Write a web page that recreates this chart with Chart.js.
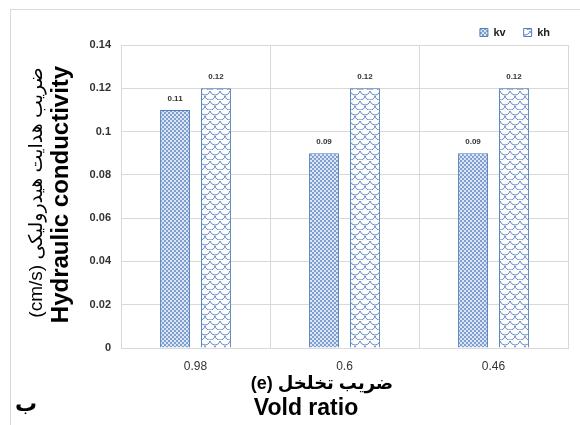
<!DOCTYPE html>
<html>
<head>
<meta charset="utf-8">
<script src="https://cdn.jsdelivr.net/npm/chart.js@4"></script>
<style>
	html, body { margin: 0; padding: 0; background: #fff; }
	#wrap { width: 580px; height: 425px; }
</style>
</head>
<body>
<div id="wrap"><canvas id="chart" width="580" height="425"></canvas></div>
<script>
// data
const categories = ['0.98', '0.6', '0.46'];
const kvValues = [0.11, 0.09, 0.09];
const khValues = [0.12, 0.12, 0.12];
const yTicks = [0, 0.02, 0.04, 0.06, 0.08, 0.1, 0.12, 0.14];

const blue = '#4f81bd';

// fine dotted fill of kv bars
function dotPattern() {
	const c = document.createElement('canvas');
	c.width = 4; c.height = 4;
	const g = c.getContext('2d');
	g.fillStyle = '#dbe5f3';
	g.fillRect(0, 0, 4, 4);
	g.fillStyle = '#7f9fd0';
	g.fillRect(0, 0, 2, 2);
	g.fillRect(2, 2, 2, 2);
	return g.createPattern(c, 'repeat');
}

// scale-like wave fill of kh bars
function wavePattern() {
	const c = document.createElement('canvas');
	c.width = 10; c.height = 10;
	const g = c.getContext('2d');
	g.fillStyle = '#ffffff';
	g.fillRect(0, 0, 10, 10);
	g.strokeStyle = '#6285c0';
	g.lineWidth = 1;
	g.beginPath();
	g.arc(5, 0, 5, 0.2, Math.PI - 0.2);
	g.stroke();
	g.beginPath();
	g.arc(0, 5, 5, 0.2, Math.PI / 2);
	g.stroke();
	g.beginPath();
	g.arc(10, 5, 5, Math.PI / 2, Math.PI - 0.2);
	g.stroke();
	return g.createPattern(c, 'repeat');
}

const pageFont = "'Liberation Sans', 'DejaVu Sans', sans-serif";

const extras = {
	id: 'extras',
	beforeDraw(chart) {
		const ctx = chart.ctx;
		ctx.save();
		ctx.strokeStyle = '#d9d9d9';
		ctx.lineWidth = 1;
		ctx.strokeRect(10.5, 9.5, 600, 500);
		ctx.restore();
	},
	afterDatasetsDraw(chart) {
		const ctx = chart.ctx;
		ctx.save();
		ctx.fillStyle = '#333';
		ctx.font = 'bold 8px ' + pageFont;
		ctx.textAlign = 'center';
		ctx.textBaseline = 'bottom';
		chart.data.datasets.forEach((ds, i) => {
			chart.getDatasetMeta(i).data.forEach((bar, j) => {
				ctx.fillText(String(ds.data[j]), bar.x, bar.y - 7);
			});
		});
		ctx.restore();
	},
	afterDraw(chart) {
		const ctx = chart.ctx;
		const a = chart.chartArea;
		ctx.save();
		ctx.fillStyle = '#000';
		ctx.textAlign = 'center';
		ctx.textBaseline = 'middle';
		// y axis titles
		const cy = (a.top + a.bottom) / 2;
		ctx.save();
		ctx.translate(37, cy - 4);
		ctx.rotate(-Math.PI / 2);
		ctx.font = '19px ' + pageFont;
		ctx.fillText('(cm/s) ضریب هدایت هیدرولیکی', 0, 0);
		ctx.restore();
		ctx.save();
		ctx.translate(61, cy - 2);
		ctx.rotate(-Math.PI / 2);
		ctx.font = 'bold 24px ' + pageFont;
		ctx.fillText('Hydraulic conductivity', 0, 0);
		ctx.restore();
		// x axis titles
		ctx.font = 'bold 18px ' + pageFont;
		ctx.fillText('(e) ضریب تخلخل', 322, 384);
		ctx.font = 'bold 23px ' + pageFont;
		ctx.fillText('Vold ratio', 306, 409);
		// panel letter
		ctx.font = 'bold 22px ' + pageFont;
		ctx.fillText('ب', 26, 405);
		ctx.restore();
	}
};

new Chart(document.getElementById('chart'), {
	type: 'bar',
	data: {
		labels: categories,
		datasets: [{
			label: 'kv',
			data: kvValues,
			backgroundColor: dotPattern(),
			borderColor: blue,
			borderWidth: 1,
			categoryPercentage: 0.55,
			barPercentage: 0.73
		}, {
			label: 'kh',
			data: khValues,
			backgroundColor: wavePattern(),
			borderColor: blue,
			borderWidth: 1,
			categoryPercentage: 0.55,
			barPercentage: 0.73
		}]
	},
	options: {
		responsive: false,
		animation: false,
		layout: { padding: { top: 9, right: 12, left: 0, bottom: 0 } },
		plugins: {
			legend: {
				position: 'top',
				align: 'end',
				maxHeight: 36,
				labels: {
					boxWidth: 8,
					boxHeight: 8,
					padding: 18,
					color: '#222',
					font: { family: pageFont, size: 11, weight: 'bold' }
				}
			},
			tooltip: { enabled: false }
		},
		scales: {
			x: {
				grid: { color: '#d9d9d9', offset: true, drawTicks: false },
				border: { color: '#d9d9d9' },
				ticks: {
					padding: 11,
					color: '#333',
					font: { family: pageFont, size: 12 }
				},
				afterFit: s => { s.height = 77; }
			},
			y: {
				min: 0,
				max: 0.14,
				afterBuildTicks: s => { s.ticks = yTicks.map(v => ({ value: v })); },
				grid: { color: '#d9d9d9', drawTicks: false },
				border: { color: '#d9d9d9' },
				ticks: {
					padding: 10,
					color: '#333',
					font: { family: pageFont, size: 11, weight: 'bold' },
					callback: v => String(+v.toFixed(2))
				},
				afterFit: s => { s.width = 121; }
			}
		}
	},
	plugins: [extras]
});
</script>
</body>
</html>
